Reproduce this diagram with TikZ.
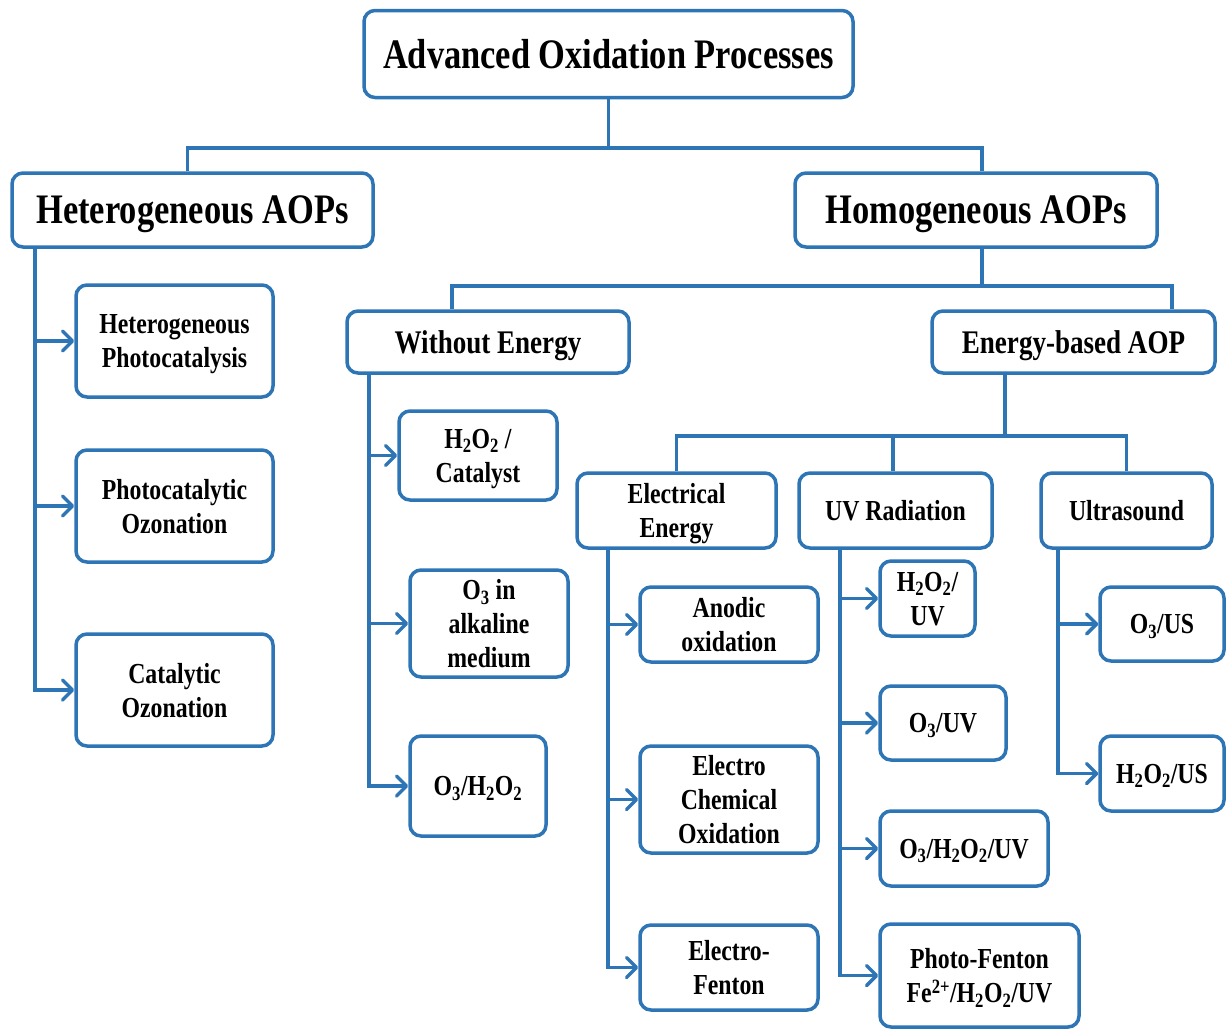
\documentclass[tikz,border=0pt]{standalone}
\usepackage{fontspec}
\setmainfont{Liberation Serif}[FakeStretch=0.82]
\usetikzlibrary{arrows.meta}
\definecolor{aopblue}{RGB}{46,117,182}
\begin{document}
\begin{tikzpicture}[x=1pt,y=-1pt,
  box/.style={draw=aopblue, line width=3.5pt, rounded corners=11pt, fill=white, align=center, inner sep=2pt, text=black, text depth=0pt},
  big/.style={box, font=\fontsize{42}{46}\selectfont\bfseries},
  mid/.style={box, font=\fontsize{33}{36}\selectfont\bfseries},
  small/.style={box, font=\fontsize{29}{34}\selectfont\bfseries},
  link/.style={draw=aopblue, line width=3.5pt},
  arr/.style={link, -{Straight Barb[length=10pt,width=20pt,round]}}]
\useasboundingbox (0,0) rectangle (1226,1029);
% level 0 and 1
\node[big, minimum width=489, minimum height=87] (title) at (608.5,54) {Advanced Oxidation Processes};
\node[big, minimum width=361, minimum height=74] (hetero) at (192.5,210) {Heterogeneous AOPs};
\node[big, minimum width=362, minimum height=74] (homo) at (976,210) {Homogeneous AOPs};
% heterogeneous children
\node[small, minimum width=197, minimum height=112] (hp) at (174.5,341) {Heterogeneous\\Photocatalysis};
\node[small, minimum width=197, minimum height=112] (po) at (174.5,506) {Photocatalytic\\Ozonation};
\node[small, minimum width=197, minimum height=112] (co) at (174.5,690) {Catalytic\\Ozonation};
% homogeneous level 2
\node[mid, minimum width=282, minimum height=62] (we) at (488,342) {Without Energy};
\node[mid, minimum width=283, minimum height=62] (eb) at (1073.5,342) {Energy-based AOP};
% without energy children
\node[small, minimum width=158, minimum height=89] (h2c) at (478,455.5) {H\textsubscript{2}O\textsubscript{2} /\\Catalyst};
\node[small, minimum width=158, minimum height=107] (o3a) at (489,623.5) {O\textsubscript{3} in\\alkaline\\medium};
\node[small, minimum width=136, minimum height=100] (o3h) at (478,786) {O\textsubscript{3}/H\textsubscript{2}O\textsubscript{2}};
% energy-based level 3
\node[small, minimum width=199, minimum height=75] (ee) at (676.5,510.5) {Electrical\\Energy};
\node[small, minimum width=193, minimum height=75] (uv) at (895.5,510.5) {UV Radiation};
\node[small, minimum width=171, minimum height=75] (us) at (1126.5,510.5) {Ultrasound};
% electrical children
\node[small, minimum width=178, minimum height=75] (ao) at (729,624.5) {Anodic\\oxidation};
\node[small, minimum width=178, minimum height=107] (eco) at (729,799.5) {Electro\\Chemical\\Oxidation};
\node[small, minimum width=178, minimum height=85] (ef) at (729,967.5) {Electro-\\Fenton};
% UV children
\node[small, minimum width=95, minimum height=75] (huv) at (927.5,598.5) {H\textsubscript{2}O\textsubscript{2}/\\UV};
\node[small, minimum width=126, minimum height=74] (ouv) at (943,723) {O\textsubscript{3}/UV};
\node[small, minimum width=168, minimum height=75] (ohuv) at (964,848.5) {O\textsubscript{3}/H\textsubscript{2}O\textsubscript{2}/UV};
\node[small, minimum width=199, minimum height=103] (pf) at (979.5,975.5) {Photo-Fenton\\Fe\textsuperscript{2+}/H\textsubscript{2}O\textsubscript{2}/UV};
% ultrasound children
\node[small, minimum width=124, minimum height=74] (ous) at (1162,624) {O\textsubscript{3}/US};
\node[small, minimum width=124, minimum height=75] (hus) at (1162,773.5) {H\textsubscript{2}O\textsubscript{2}/US};
% tree connectors
\draw[link] (title.south) -- ++(0,51);
\draw[link] ([xshift=-5]hetero.north) |- ([xshift=6]homo.north |- 0,148) -- ([xshift=6]homo.north);
\draw[link] ([xshift=6]homo.south) -- ++(0,39);
\draw[link] ([xshift=-36]we.north) |- ([xshift=98.5]eb.north |- 0,286) -- ([xshift=98.5]eb.north);
\draw[link] ([xshift=-68.5]eb.south) -- ++(0,63);
\draw[link] (ee.north) |- (us.north |- 0,436) -- (us.north);
\draw[link] ([xshift=-2.5]uv.north) -- ([xshift=-2.5]uv.north |- 0,436);
% branch arrows
\draw[arr] ([xshift=-157.5]hetero.south) |- (hp.west);
\draw[arr] ([xshift=-157.5]hetero.south) |- (po.west);
\draw[arr] ([xshift=-157.5]hetero.south) |- (co.west);
\draw[arr] ([xshift=-119]we.south) |- (h2c.west);
\draw[arr] ([xshift=-119]we.south) |- (o3a.west);
\draw[arr] ([xshift=-119]we.south) |- (o3h.west);
\draw[arr] ([xshift=-68.5]ee.south) |- (ao.west);
\draw[arr] ([xshift=-68.5]ee.south) |- (eco.west);
\draw[arr] ([xshift=-68.5]ee.south) |- (ef.west);
\draw[arr] ([xshift=-55.5]uv.south) |- (huv.west);
\draw[arr] ([xshift=-55.5]uv.south) |- (ouv.west);
\draw[arr] ([xshift=-55.5]uv.south) |- (ohuv.west);
\draw[arr] ([xshift=-55.5]uv.south) |- (pf.west);
\draw[arr] ([xshift=-68.5]us.south) |- (ous.west);
\draw[arr] ([xshift=-68.5]us.south) |- (hus.west);
\end{tikzpicture}
\end{document}
